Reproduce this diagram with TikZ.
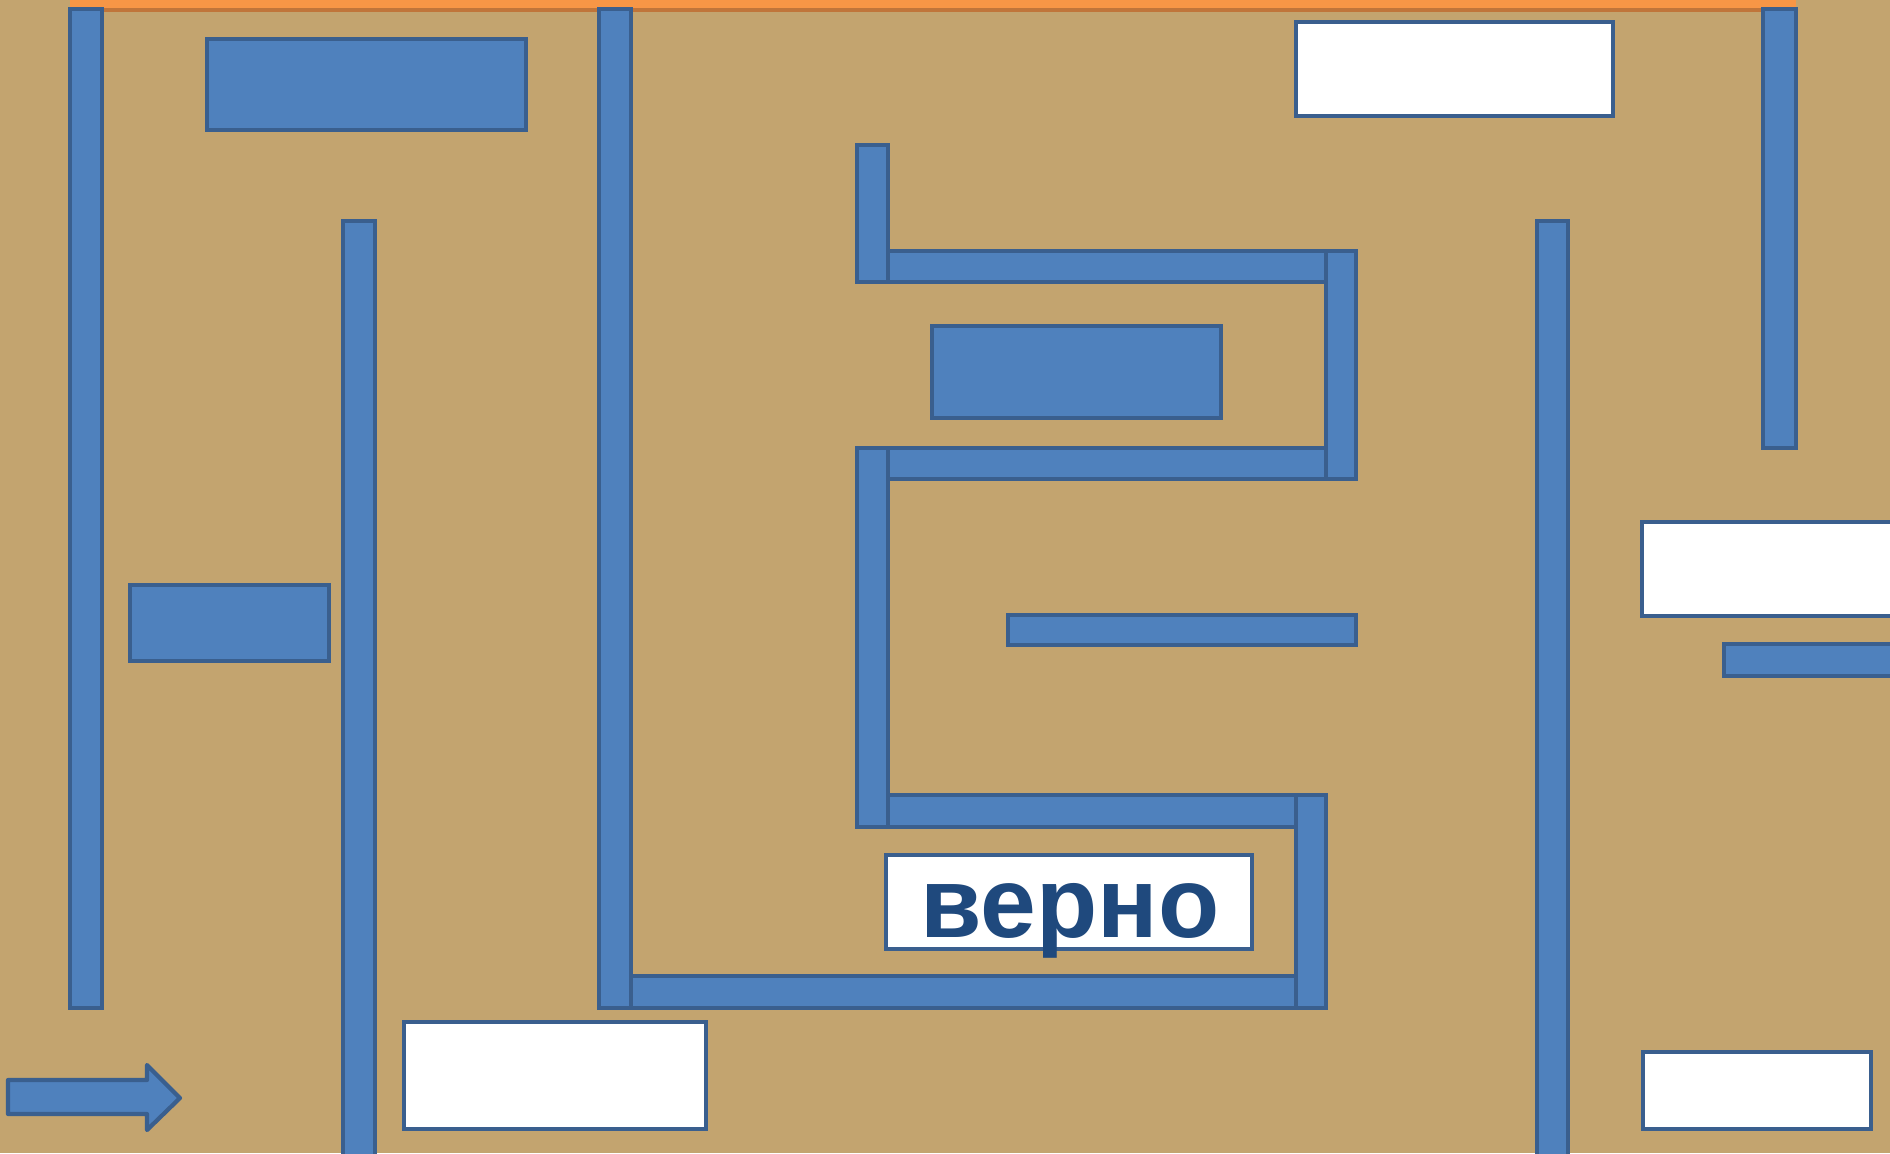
\documentclass[tikz,border=0pt]{standalone}
\usepackage{fontspec}
\setmainfont{Liberation Sans}
\definecolor{bg}{HTML}{C3A46F}
\definecolor{wallfill}{HTML}{4F81BD}
\definecolor{walledge}{HTML}{3A5F8E}
\definecolor{textblue}{HTML}{1F497D}
\definecolor{topline}{HTML}{F79646}
\definecolor{toplinedark}{HTML}{C0753A}
\begin{document}
\begin{tikzpicture}[x=0.01cm,y=-0.01cm,
  wall/.style={fill=wallfill,draw=walledge,line width=1.2pt},
  card/.style={fill=white,draw=walledge,line width=1.2pt},
  label/.style={text=textblue,font=\bfseries\fontsize{28.5}{30}\selectfont,anchor=base,inner sep=0pt}]
% background
\fill[bg] (0,0) rectangle (1890,1153);
\useasboundingbox (0,0) rectangle (1890,1153);
% orange top line
\fill[topline] (70,0) rectangle (1796,11);
\draw[toplinedark,line width=1pt] (70,10) -- (1796,10);
% horizontal walls
\draw[wall] (630,976) rectangle (1326,1008);
\draw[wall] (857,795) rectangle (1326,827);
\draw[wall] (857,448) rectangle (1356,479);
\draw[wall] (857,251) rectangle (1356,282);
\draw[wall] (1008,615) rectangle (1356,645);
\draw[wall] (1724,644) rectangle (1900,676);
% vertical walls
\draw[wall] (70,9) rectangle (102,1008);
\draw[wall] (343,221) rectangle (375,1160);
\draw[wall] (599,9) rectangle (631,1008);
\draw[wall] (1296,795) rectangle (1326,1008);
\draw[wall] (857,448) rectangle (888,827);
\draw[wall] (1326,251) rectangle (1356,479);
\draw[wall] (857,145) rectangle (888,282);
\draw[wall] (1537,221) rectangle (1568,1160);
\draw[wall] (1763,9) rectangle (1796,448);
% blue blocks
\draw[wall] (207,39) rectangle (526,130);
\draw[wall] (130,585) rectangle (329,661);
\draw[wall] (932,326) rectangle (1221,418);
% white cards
\draw[card] (404,1022) rectangle (706,1129);
\draw[card] (1296,22) rectangle (1613,116);
\draw[card] (1642,522) rectangle (1900,616);
\draw[card] (1643,1052) rectangle (1871,1129);
\draw[card] (886,855) rectangle (1252,949);
\node[label] (verno) at (1070,937) {верно};
% arrow
\draw[wall,line join=round] (8,1080) -- (147,1080) -- (147,1065) -- (180,1098)
  -- (147,1130) -- (147,1114) -- (8,1114) -- cycle;
\end{tikzpicture}
\end{document}
